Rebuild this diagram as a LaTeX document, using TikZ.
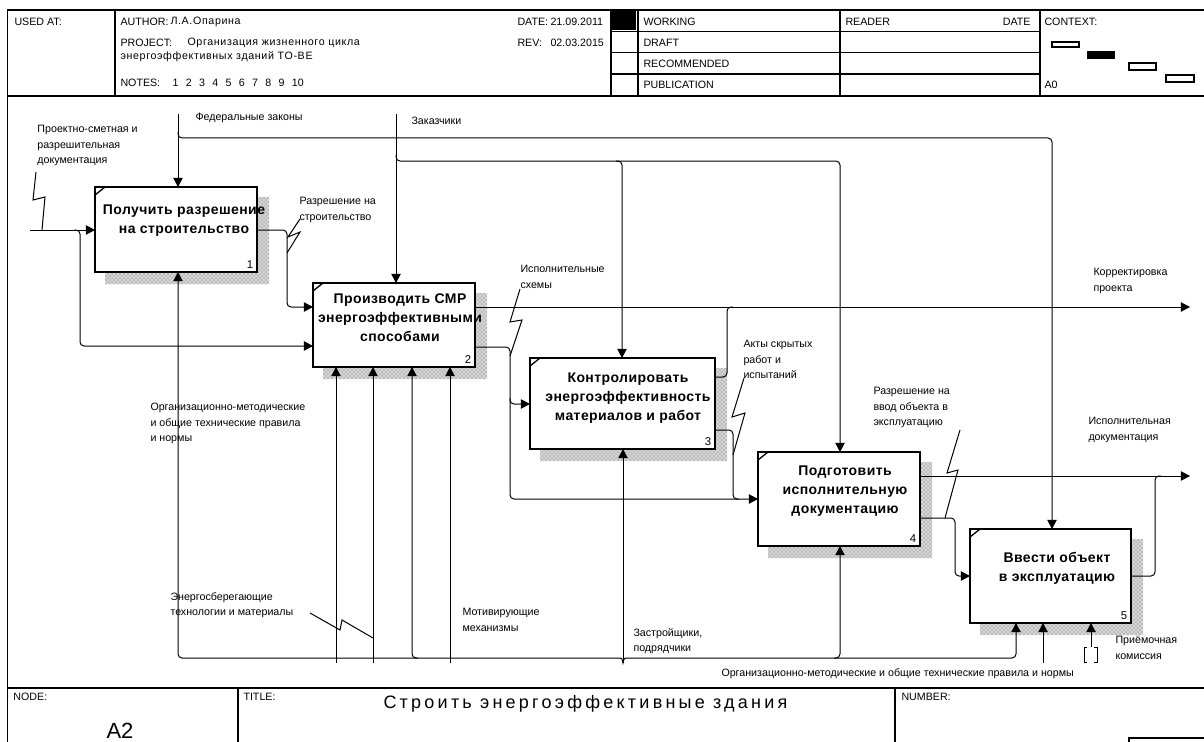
\documentclass[tikz,border=0pt]{standalone}
\usepackage{fontspec}
\setmainfont{Liberation Sans}
\newfontfamily\boxfont[LetterSpace=3]{Liberation Sans}
\newfontfamily\titlefont[LetterSpace=18]{Liberation Sans}
\newfontfamily\widefont[LetterSpace=6]{Liberation Sans}
\usetikzlibrary{arrows.meta,patterns,backgrounds}

% L-shaped hatched shadow to the right of and below an activity box
\newcommand\boxshadow[1]{%
  \fill[shade] ([yshift=-7.5pt]#1.north east) -- ([xshift=9pt,yshift=-7.5pt]#1.north east)
    -- ([xshift=9pt,yshift=-9pt]#1.south east) -- ([xshift=7.5pt,yshift=-9pt]#1.south west)
    -- ([xshift=7.5pt]#1.south west) -- (#1.south east) -- cycle;}
% small diagonal mark in the upper left corner of an activity box
\newcommand\boxtick[1]{%
  \draw[tick] ([yshift=-6pt]#1.north west) -- ([xshift=7.5pt]#1.north west);}

\tikzset{
  arr/.style={-{Triangle[length=6.8pt,width=7pt]}},
  rc/.style={rounded corners=3pt},
  fbox/.style={draw, line width=1.9pt, fill=white, inner sep=0pt, outer sep=0pt},
  shade/.style={fill=black!16, postaction={pattern=crosshatch dots, pattern color=black!60}},
  lbl/.style={font=\fontsize{8}{11.4}\selectfont, align=left, anchor=north west, inner sep=0pt},
  hdr/.style={font=\fontsize{8}{10}\selectfont, anchor=west, inner sep=0pt},
  hdrw/.style={font=\widefont\fontsize{8}{10}\selectfont, anchor=west, inner sep=0pt},
  btxt/.style={font=\boxfont\bfseries\fontsize{10.5}{14.3}\selectfont, align=center, inner sep=0pt},
  bnum/.style={font=\fontsize{8.5}{10}\selectfont, anchor=south east, inner sep=0pt},
  tick/.style={line width=1pt},
  frm/.style={line width=0.9pt},
}

\begin{document}
\begin{tikzpicture}[x=0.75pt,y=-0.75pt,line width=0.75pt]
\useasboundingbox (0,0) rectangle (1204,742);

% ---------- form frame ----------
\draw[frm] (1204,10) -- (7.5,10) -- (7.5,742);
\draw[frm] (7.5,96) -- (1204,96);
\draw[frm] (115,10) -- (115,96);
\draw[frm] (611,10) -- (611,96);
\draw[frm] (638,10) -- (638,96);
\draw[frm] (840,10) -- (840,96);
\draw[frm] (1040,10) -- (1040,96);
\draw[frm] (611,31.7) -- (1040,31.7);
\draw[frm] (611,52.7) -- (1040,52.7);
\draw[frm] (611,74) -- (1040,74);
\fill (612,11) rectangle (636,30);
\draw[frm] (7.5,688) -- (1204,688);
\draw[frm] (238,688) -- (238,742);
\draw[frm] (895,688) -- (895,742);
\draw[frm] (1129,742) -- (1129,738) -- (1204,738);

% header texts
\node[hdr] (usedat) at (14,22) {USED AT:};
\node[hdr] (author) at (120,22) {AUTHOR:};
\node[hdrw] (authorv) at (170,22) {Л.А.Опарина};
\node[hdr] (project) at (120,43) {PROJECT:};
\node[hdrw] (projv) at (187,43) {Организация жизненного цикла};
\node[hdrw] (projv2) at (120,57) {энергоэффективных зданий TO-BE};
\node[hdr] (notes) at (120,83) {NOTES:};
\node[hdr] (notesv) at (172,83) {1\hspace{5.5pt}2\hspace{5.5pt}3\hspace{5.5pt}4\hspace{5.5pt}5\hspace{5.5pt}6\hspace{5.5pt}7\hspace{5.5pt}8\hspace{5.5pt}9\hspace{5.5pt}10};
\node[hdr] (date) at (517,22) {DATE:};
\node[hdr] (datev) at (550,22) {21.09.2011};
\node[hdr] (rev) at (517,43) {REV:};
\node[hdr] (revv) at (550,43) {02.03.2015};
\node[hdr] (working) at (643,22) {WORKING};
\node[hdr] (draft) at (643,43) {DRAFT};
\node[hdr] (recomm) at (643,64) {RECOMMENDED};
\node[hdr] (public) at (643,85) {PUBLICATION};
\node[hdr] (reader) at (845,22) {READER};
\node[hdr,anchor=east] (rdate) at (1031,22) {DATE};
\node[hdr] (context) at (1044,22) {CONTEXT:};
\node[hdr] (ctxnode) at (1044,85) {A0};
\draw[line width=0.8pt] (1052,42) rectangle (1079,47);
\fill (1087,51) rectangle (1115,59);
\draw[line width=0.8pt] (1129,63) rectangle (1156,70);
\draw[line width=0.8pt] (1166,75) rectangle (1194,82);

% footer texts
\node[hdr] (nodelbl) at (13,697) {NODE:};
\node[hdr] (titlelbl) at (243,697) {TITLE:};
\node[hdr] (numlbl) at (901,697) {NUMBER:};
\node[anchor=west,inner sep=0pt,font=\titlefont\fontsize{13.5}{16}\selectfont] (title) at (383,704) {Строить энергоэффективные здания};
\node[anchor=west,inner sep=0pt,font=\fontsize{16.5}{18}\selectfont] (nodeid) at (106,731) {A2};

% ---------- activity boxes ----------
\node[fbox, minimum width=121.5pt, minimum height=63.75pt] (b1) at (176,229.5) {};
\node[fbox, minimum width=121.5pt, minimum height=63pt] (b2) at (394,325) {};
\node[fbox, minimum width=138.75pt, minimum height=68.25pt] (b3) at (622.5,403.5) {};
\node[fbox, minimum width=121.5pt, minimum height=70.5pt] (b4) at (839,499) {};
\node[fbox, minimum width=120.75pt, minimum height=70.5pt] (b5) at (1050.5,576) {};

\begin{scope}[on background layer]
  \fill[white] (0,0) rectangle (1204,742);
  \boxshadow{b1} \boxshadow{b2} \boxshadow{b3} \boxshadow{b4} \boxshadow{b5}
\end{scope}
\boxtick{b1} \boxtick{b2} \boxtick{b3} \boxtick{b4} \boxtick{b5}

\node[btxt] (t1) at (184,221) {Получить разрешение\\на строительство};
\node[btxt] (t2) at (400,318) {Производить СМР\\энергоэффективными\\способами};
\node[btxt] (t3) at (628,398) {Контролировать\\энергоэффективность\\материалов и работ};
\node[btxt] (t4) at (845,491) {Подготовить\\исполнительную\\документацию};
\node[btxt] (t5) at (1057,568) {Ввести объект\\в эксплуатацию};

\node[bnum] (n1) at ([xshift=-2.5pt,yshift=2.5pt]b1.south east) {1};
\node[bnum] (n2) at ([xshift=-2.5pt,yshift=2.5pt]b2.south east) {2};
\node[bnum] (n3) at ([xshift=-2.5pt,yshift=2.5pt]b3.south east) {3};
\node[bnum] (n4) at ([xshift=-2.5pt,yshift=2.5pt]b4.south east) {4};
\node[bnum] (n5) at ([xshift=-2.5pt,yshift=2.5pt]b5.south east) {5};

% ---------- inputs ----------
\coordinate (pin) at (30,230);
\coordinate (pj) at (80,230);
\coordinate (pd) at (80,346);
\draw[arr] (pin) -- (pin -| b1.west);
\draw[arr,rc] ([xshift=-4.5pt]pj) -- (pj) -- (pd) -- (pd -| b2.west);

% ---------- controls ----------
\coordinate (fz) at (178,114);
\coordinate (fzj) at (178,138);
\coordinate (fzr) at (1052,138);
\draw[arr] (fz) -- (fz |- b1.north);
\draw[arr,rc] ([yshift=4.5pt]fzj) -- (fzj) -- (fzr) -- (fzr |- b5.north);

\coordinate (zk) at (396,114);
\coordinate (zkj) at (396,161);
\coordinate (zk3) at (622,161);
\coordinate (zk4) at (840,161);
\draw[arr] (zk) -- (zk |- b2.north);
\draw[arr,rc] ([yshift=4.5pt]zkj) -- (zkj) -- (zk3) -- (zk3 |- b3.north);
\draw[arr,rc] ([xshift=-4.5pt]zk3) -- (zk4) -- (zk4 |- b4.north);

% ---------- outputs and links ----------
\coordinate (o1a) at (287,230);
\coordinate (o1b) at (287,307);
\draw[arr,rc] (o1a -| b1.east) -- (o1a) -- (o1b) -- (o1b -| b2.west);

\coordinate (kp) at (1190,307);
\draw[arr] (kp -| b2.east) -- (kp);
\coordinate (k3a) at (727,377);
\coordinate (k3b) at (727,307);
\draw[rc] (k3a -| b3.east) -- (k3a) -- (k3b) -- ([xshift=4.5pt]k3b);

\coordinate (s2a) at (510,347);
\coordinate (s2b) at (510,404);
\coordinate (s2c) at (510,499);
\draw[arr,rc] (s2a -| b2.east) -- (s2a) -- (s2b) -- (s2b -| b3.west);
\draw[arr,rc] ([yshift=4.5pt]s2b) -- (s2c) -- (s2c -| b4.west);

\coordinate (a3a) at (733,430);
\coordinate (a3b) at (733,499);
\draw[rc] (a3a -| b3.east) -- (a3a) -- (a3b) -- ([xshift=4.5pt]a3b);

\coordinate (idoc) at (1190,476);
\draw[arr] (idoc -| b4.east) -- (idoc);
\coordinate (i5a) at (1155,576);
\coordinate (i5b) at (1155,476);
\draw[rc] (i5a -| b5.east) -- (i5a) -- (i5b) -- ([xshift=4.5pt]i5b);

\coordinate (e4a) at (955,518);
\coordinate (e4b) at (955,576);
\draw[arr,rc] (e4a -| b4.east) -- (e4a) -- (e4b) -- (e4b -| b5.west);

% ---------- mechanisms ----------
\coordinate (m1) at (336,663);
\coordinate (m2) at (373,663);
\coordinate (m4) at (450,663);
\draw[arr] (m1) -- (m1 |- b2.south);
\draw[arr] (m2) -- (m2 |- b2.south);
\draw[arr] (m4) -- (m4 |- b2.south);

\coordinate (bus1) at (178,658);
\coordinate (bus2) at (412,658);
\coordinate (bus3) at (623,658);
\coordinate (bus3s) at (623,663);
\coordinate (bus4) at (840,658);
\coordinate (bus5) at (1016,658);
\draw[arr,rc] ([xshift=-3.75pt]bus3) -- (bus1) -- (bus1 |- b1.south);
\draw[arr,rc] ([xshift=4.5pt]bus2) -- (bus2) -- (bus2 |- b2.south);
\draw[arr] (bus3s) -- (bus3s |- b3.south);
\draw ([xshift=-3.75pt]bus3) .. controls ([xshift=-0.75pt]bus3) .. (bus3s)
      .. controls ([xshift=0.75pt]bus3) .. ([xshift=3.75pt]bus3);
\draw[arr,rc] ([xshift=3.75pt]bus3) -- (bus4) -- (bus4 |- b4.south);
\draw[arr,rc] ([xshift=-4.5pt]bus4) -- (bus5) -- (bus5 |- b5.south);

\coordinate (on) at (1043,663);
\draw[arr] (on) -- (on |- b5.south);
\coordinate (pk) at (1091,647);
\draw[arr] (pk) -- (pk |- b5.south);
% tunnel brackets
\draw (1087,647) -- (1084,647) -- (1084,662) -- (1087,662);
\draw (1094,647) -- (1097,647) -- (1097,662) -- (1094,662);

% ---------- arrow labels ----------
\node[lbl] (l1) at (37,125) {Проектно-сметная и\\разрешительная\\документация};
\node[lbl] (l2) at (195,113) {Федеральные законы};
\node[lbl] (l3) at (411,117) {Заказчики};
\node[lbl] (l4) at (299,197) {Разрешение на\\строительство};
\node[lbl] (l5) at (520,265) {Исполнительные\\схемы};
\node[lbl] (l6) at (1093,268) {Корректировка\\проекта};
\node[lbl] (l7) at (743,340) {Акты скрытых\\работ и\\испытаний};
\node[lbl] (l8) at (873,387) {Разрешение на\\ввод объекта в\\эксплуатацию};
\node[lbl] (l9) at (1088,417) {Исполнительная\\документация};
\node[lbl] (l10) at (150,403) {Организационно-методические\\и общие технические правила\\и нормы};
\node[lbl] (l11) at (170,592) {Энергосберегающие\\технологии и материалы};
\node[lbl] (l12) at (462,608) {Мотивирующие\\механизмы};
\node[lbl] (l13) at (633,628) {Застройщики,\\подрядчики};
\node[lbl] (l14) at (721,668) {Организационно-методические и общие технические правила и нормы};
\node[lbl] (l15) at (1115,636) {Приёмочная\\комиссия};

% label leaders
\draw (36,172) -- (33,200) -- (45,197) -- (42,230);
\draw (300,219) -- (288,237) -- (300,232) -- (287,253);
\draw (520,289) -- (510,322) -- (522,320) -- (510,356);
\draw (744,378) -- (732,417) -- (745,413) -- (733,455);
\draw (960,430) -- (947,473) -- (958,470) -- (945,518);
\draw (310,613) -- (340,630) -- (342,620) -- (373,638);
\end{tikzpicture}
\end{document}
